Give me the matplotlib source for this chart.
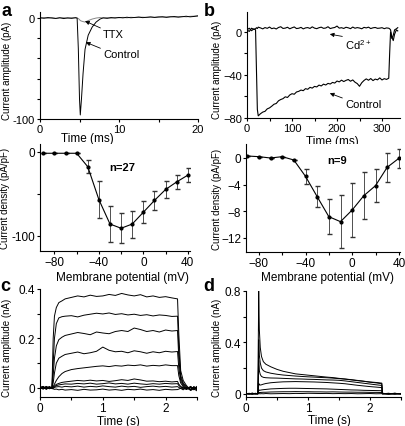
import numpy as np
import matplotlib
matplotlib.use("Agg")
import matplotlib.pyplot as plt

plt.rcParams['font.family'] = ['Liberation Sans', 'DejaVu Sans']
plt.rcParams['mathtext.default'] = 'regular'

# ---- panel a: Na current, control vs TTX (pA vs ms)
a_time = [0, 0.5, 1, 1.5, 2, 2.5, 3, 3.5, 4, 4.5, 4.7, 4.85, 5.0, 5.1, 5.25, 5.45, 5.7, 6.1, 6.6, 7.1,
          7.6, 8, 8.5, 9, 9.5, 10, 10.5, 11, 11.5, 12, 12.5, 13, 13.5, 14, 14.5, 15, 15.5, 16, 16.5, 17,
          17.5, 18, 18.5, 19, 19.5, 20]
a_control = [0.3, -0.2, 0.5, 0, -0.4, 0.3, -0.5, 0.2, -0.3, 0.4, 0, -30, -80, -96, -80, -55, -31, -17, -9, -4,
             -1, 0.2, -0.3, 0.5, 0, 0.6, 0.2, 0.8, 0.3, 0.6, 1.0, 0.4, 0.8, 1.1, 0.6, 1.0, 1.3, 0.7, 1.2, 1.5,
             0.9, 1.3, 1.8, 1.2, 1.6, 2.2]
a_ttx = [0, 0.4, -0.2, 0.5, -0.3, 0.2, 0.4, -0.2, 0.3, 0.1, 0, -0.5, -1.5, -2.5, -3, -3.5, -4, -2.5, -1, 0,
         0.5, 0.1, 0.4, -0.1, 0.6, 0.3, 0.7, 0.2, 0.8, 0.5, 0.7, 0.9, 0.5, 1.0, 0.8, 1.2, 0.9, 1.1, 1.4, 1.0,
         1.3, 1.6, 1.2, 1.7, 1.9, 2.0]

# ---- panel b: Ca current, control vs Cd2+ (pA vs ms)
b_time = [0, 5, 10, 15, 19, 21, 23, 25, 30, 35, 40, 45, 50, 55, 60, 65, 70, 75, 80, 85, 90, 95, 100,
          105, 110, 115, 120, 125, 130, 135, 140, 145, 150, 155, 160, 165, 170, 175, 180, 185, 190, 195,
          200, 205, 210, 215, 220, 225, 230, 235, 240, 245, 250, 255, 260, 265, 270, 275, 280, 285, 290,
          295, 300, 305, 310, 315, 317, 319, 322, 325, 328, 332, 335]
b_control = [2, 3.5, 1.2, 2.8, 2, -35, -72, -78,
             -76.0, -74.5, -73.8, -71.5, -70.6, -69.0, -67.2, -66.5, -64.0, -62.8,
             -62.0, -60.3, -60.9, -58.6, -57.4, -57.9, -55.8, -55.2, -54.0, -54.6,
             -52.7, -53.3, -51.5, -52.2, -50.6, -51.1, -49.4, -50.2, -48.5, -49.3,
             -47.8, -48.4, -46.9, -47.5, -45.6, -46.4, -44.8, -46.1, -45.0, -44.2,
             -45.8, -44.6, -46.7, -48.0, -50.5, -47.2, -45.1, -43.6, -44.9, -43.3,
             -45.2, -43.8, -44.5, -42.7, -44.6, -43.4, -44.1, -43.0,
             -20, 0, -6, -3, 2, 3, 4]
b_cd = [2, 0.5, 3.5, 2.5, 3, 4, 3.2, 4.5,
        3.8, 2.9, 4.1, 3.4, 4.6, 3.1, 3.7, 2.8, 4.2, 4.9,
        3.3, 3.6, 4.4, 3.0, 3.9, 4.7, 3.2, 3.5, 4.3, 2.9,
        3.8, 4.1, 3.3, 4.8, 3.6, 3.1, 4.0, 4.5, 3.4, 3.7,
        4.9, 3.2, 3.8, 4.2, 5.5, 3.6, 4.0, 3.3, 4.4, 3.9,
        3.1, 4.6, 3.5, 4.1, 3.7, 3.0, 4.3, 3.8, 4.5, 3.2,
        3.9, 4.2, 3.4, 3.6, 4.0, 3.1, 3.8, 3.5,
        3, 2, -5, -8, -2, 2, 1]

# ---- IV curves
iv_v = [-90, -80, -70, -60, -50, -40, -30, -20, -10, 0, 10, 20, 30, 40]
iv_na = [-2, -2, -2, -2, -18, -57, -86, -91, -86, -72, -58, -45, -36, -28]
iv_na_err = [0, 0, 0, 0, 8, 22, 21, 18, 16, 13, 11, 10, 8, 8]
iv_ca = [0.3, 0.2, 0.0, 0.2, -0.3, -2.75, -5.8, -8.8, -9.55, -7.8, -5.65, -4.15, -1.4, -0.05]
iv_ca_err = [0, 0, 0, 0, 0, 1.1, 1.6, 2.6, 3.95, 4.0, 3.5, 2.5, 2.15, 1.4]

# ---- panel c: outward currents (nA vs s)
c_time = [0, 0.05, 0.1, 0.15, 0.19, 0.21, 0.23, 0.26, 0.3, 0.35, 0.4, 0.5, 0.6, 0.7, 0.8, 0.9, 1.0, 1.1,
          1.2, 1.3, 1.4, 1.5, 1.6, 1.7, 1.8, 1.9, 2.0, 2.1, 2.19, 2.21, 2.24, 2.28, 2.33, 2.4, 2.45, 2.5]
c1 = [0.005, -0.004, 0.006, -0.003, 0.0, 0.2, 0.29, 0.325, 0.345, 0.352, 0.36, 0.366, 0.372, 0.368, 0.375,
      0.37, 0.372, 0.378, 0.374, 0.382, 0.376, 0.372, 0.377, 0.368, 0.372, 0.366, 0.369, 0.364, 0.36, 0.22,
      0.07, 0.03, 0.01, -0.01, -0.004, -0.012]
c2 = [0.002, 0.006, -0.005, 0.003, 0.0, 0.1, 0.2, 0.26, 0.283, 0.288, 0.29, 0.292, 0.287, 0.294, 0.298,
      0.302, 0.299, 0.303, 0.297, 0.3, 0.295, 0.298, 0.293, 0.296, 0.291, 0.295, 0.293, 0.289, 0.29, 0.16,
      0.05, 0.02, 0.005, -0.008, 0.004, -0.006]
c3 = [-0.003, 0.004, 0.0, 0.005, -0.002, 0.05, 0.12, 0.17, 0.195, 0.205, 0.212, 0.218, 0.224, 0.22, 0.215,
      0.226, 0.222, 0.219, 0.228, 0.232, 0.228, 0.242, 0.236, 0.228, 0.232, 0.226, 0.234, 0.23, 0.232, 0.12,
      0.04, 0.015, 0.0, -0.01, 0.005, -0.005]
c4 = [0.004, -0.002, 0.005, -0.004, 0.002, 0.02, 0.06, 0.1, 0.12, 0.128, 0.135, 0.14, 0.145, 0.138, 0.142,
      0.148, 0.165, 0.152, 0.146, 0.148, 0.142, 0.15, 0.146, 0.14, 0.146, 0.142, 0.148, 0.145, 0.147, 0.08,
      0.03, 0.01, -0.004, 0.006, -0.008, 0.002]
c5 = [0.0, 0.005, -0.004, 0.003, 0.001, 0.005, 0.015, 0.03, 0.045, 0.058, 0.066, 0.074, 0.078, 0.081, 0.084,
      0.087, 0.089, 0.086, 0.09, 0.088, 0.092, 0.09, 0.093, 0.088, 0.091, 0.089, 0.093, 0.09, 0.09, 0.05,
      0.02, 0.005, -0.006, 0.004, -0.003, 0.006]
c6 = [0.003, -0.004, 0.002, -0.002, 0.0, 0.003, 0.008, 0.014, 0.018, 0.022, 0.024, 0.027, 0.03, 0.028, 0.031,
      0.028, 0.03, 0.026, 0.029, 0.033, 0.03, 0.036, 0.032, 0.027, 0.028, 0.025, 0.027, 0.024, 0.026, 0.015,
      0.006, 0.0, -0.005, 0.003, -0.006, 0.0]
c7 = [-0.004, 0.002, -0.003, 0.004, -0.002, 0.0, 0.004, 0.009, 0.012, 0.014, 0.016, 0.015, 0.018, 0.016,
      0.019, 0.015, 0.017, 0.02, 0.016, 0.018, 0.015, 0.019, 0.016, 0.014, 0.017, 0.015, 0.018, 0.016, 0.017,
      0.01, 0.003, -0.004, 0.002, -0.007, 0.003, -0.004]
c8 = [0.002, -0.005, 0.004, -0.001, 0.0, -0.002, 0.002, 0.004, 0.005, 0.003, 0.006, 0.004, 0.007, 0.003,
      0.006, 0.004, 0.008, 0.005, 0.003, 0.007, 0.004, 0.006, 0.002, 0.005, 0.007, 0.004, 0.006, 0.003, 0.005,
      0.002, -0.003, 0.004, -0.006, 0.002, -0.004, 0.003]
c9 = [-0.002, 0.003, -0.006, 0.002, -0.003, -0.004, -0.006, -0.005, -0.008, -0.006, -0.009, -0.007, -0.01,
      -0.006, -0.009, -0.008, -0.005, -0.009, -0.007, -0.01, -0.006, -0.008, -0.005, -0.009, -0.007, -0.01,
      -0.006, -0.008, -0.007, -0.005, -0.002, -0.008, 0.001, -0.005, 0.002, -0.008]

# ---- panel d: transient outward currents (nA vs s)
d_time = [0, 0.05, 0.1, 0.15, 0.19, 0.2, 0.205, 0.215, 0.23, 0.25, 0.28, 0.32, 0.36, 0.4, 0.5, 0.6, 0.7,
          0.8, 0.9, 1.0, 1.1, 1.2, 1.3, 1.4, 1.5, 1.6, 1.7, 1.8, 1.9, 2.0, 2.1, 2.19, 2.2, 2.3, 2.4, 2.5]
d1 = [0.004, -0.003, 0.005, 0.0, 0.002, 0.5, 0.8, 0.5, 0.36, 0.29, 0.25, 0.23, 0.22, 0.21, 0.19, 0.175,
      0.165, 0.155, 0.15, 0.145, 0.14, 0.135, 0.13, 0.126, 0.12, 0.115, 0.11, 0.104, 0.098, 0.092, 0.088,
      0.083, 0.005, -0.003, 0.004, -0.002]
d2 = [-0.002, 0.004, -0.003, 0.002, 0.0, 0.2, 0.42, 0.3, 0.24, 0.2, 0.18, 0.17, 0.165, 0.16, 0.152, 0.146,
      0.142, 0.138, 0.135, 0.132, 0.13, 0.127, 0.125, 0.122, 0.118, 0.114, 0.108, 0.102, 0.097, 0.09, 0.085,
      0.078, 0.0, 0.004, -0.003, 0.003]
d3 = [0.003, 0.0, 0.004, -0.002, 0.001, 0.1, 0.26, 0.18, 0.15, 0.135, 0.128, 0.125, 0.124, 0.123, 0.122,
      0.12, 0.118, 0.116, 0.115, 0.113, 0.112, 0.11, 0.108, 0.107, 0.105, 0.1, 0.094, 0.088, 0.082, 0.076,
      0.07, 0.065, 0.002, -0.002, 0.003, 0.0]
d4 = [0.0, 0.003, -0.002, 0.004, 0.0, 0.03, 0.08, 0.07, 0.068, 0.07, 0.075, 0.08, 0.083, 0.086, 0.09, 0.093,
      0.094, 0.095, 0.094, 0.093, 0.092, 0.09, 0.088, 0.085, 0.082, 0.078, 0.072, 0.066, 0.061, 0.056, 0.052,
      0.048, 0.003, 0.0, 0.004, -0.002]
d5 = [0.002, -0.002, 0.003, 0.0, 0.0, 0.01, 0.03, 0.028, 0.028, 0.03, 0.032, 0.034, 0.036, 0.038, 0.04,
      0.042, 0.043, 0.043, 0.042, 0.041, 0.04, 0.039, 0.038, 0.036, 0.034, 0.032, 0.03, 0.029, 0.027, 0.026,
      0.025, 0.024, 0.0, 0.003, -0.002, 0.002]
d6 = [-0.002, 0.002, 0.0, 0.003, -0.001, 0.004, 0.01, 0.01, 0.01, 0.011, 0.012, 0.012, 0.013, 0.014, 0.015,
      0.016, 0.016, 0.017, 0.016, 0.016, 0.015, 0.015, 0.014, 0.015, 0.014, 0.013, 0.013, 0.012, 0.012, 0.011,
      0.011, 0.01, 0.0, -0.002, 0.002, 0.0]
d7 = [0.001, 0.0, -0.002, 0.001, 0.0, 0.0, 0.002, 0.001, 0.0, 0.001, 0.0, 0.002, 0.001, 0.0, 0.001, 0.002,
      0.001, 0.003, 0.002, 0.004, 0.003, 0.002, 0.003, 0.001, 0.002, 0.001, 0.002, 0.0, 0.001, 0.002, 0.0,
      0.001, 0.0, 0.002, 0.0, 0.001]

W, H = 405, 427
fig = plt.figure(figsize=(W / 100, H / 100), dpi=100)


def box(l, t, r, b):
    # pixel box -> figure fraction
    return [l / W, 1 - b / H, (r - l) / W, (b - t) / H]


def style(ax, size=8.5):
    for s in ['top', 'right']:
        ax.spines[s].set_visible(False)
    for s in ['left', 'bottom']:
        ax.spines[s].set_linewidth(0.8)
    ax.tick_params(which='both', direction='out', length=2.5, width=0.8, labelsize=size, pad=1)


lw = 0.7

# a
ax_a = fig.add_axes(box(40, 13, 198, 120))
style(ax_a, 8)
ax_a.plot(a_time, a_ttx, color='#888888', lw=lw)
ax_a.plot(a_time, a_control, color='k', lw=lw)
ax_a.set_xlim(0, 20)
ax_a.set_ylim(-100, 6)
ax_a.set_xticks([0, 10, 20])
ax_a.set_xticks([5, 15], minor=True)
ax_a.set_yticks([-100, 0])
ax_a.set_yticklabels(['-100', '0'])
ax_a.set_yticks([-80, -60, -40, -20], minor=True)
ax_a.set_xlabel('Time (ms)', fontsize=8.5, va='top')
ax_a.xaxis.set_label_coords(0.3, -0.125)
ax_a.set_ylabel('Current amplitude (pA)', fontsize=7)
ax_a.yaxis.set_label_coords(-0.177, 0.46)
arr = dict(arrowstyle='-|>', lw=0.6, color='k', mutation_scale=6, shrinkA=0, shrinkB=0, relpos=(0, 1))
ax_a.annotate('TTX', xy=(5.7, -3), xytext=(8.0, -16), ha='left', va='center', fontsize=8, arrowprops=arr)
ax_a.annotate('Control', xy=(5.8, -24), xytext=(8.0, -36), ha='left', va='center', fontsize=8,
              arrowprops=arr)

# b
ax_b = fig.add_axes(box(247, 13, 400, 119))
style(ax_b, 8)
ax_b.plot(b_time, b_cd, color='k', lw=0.8)
ax_b.plot(b_time, b_control, color='k', lw=0.8)
ax_b.set_xlim(0, 340)
ax_b.set_ylim(-80, 18.6)
ax_b.set_xticks([0, 100, 200, 300])
ax_b.set_xticks([50, 150, 250], minor=True)
ax_b.set_yticks([-80, -40, 0])
ax_b.set_yticks([-60, -20], minor=True)
ax_b.set_xlabel('Time (ms)', fontsize=8.5, va='top')
ax_b.xaxis.set_label_coords(0.56, -0.16)
ax_b.set_ylabel('Current amplitude (pA)', fontsize=7)
ax_b.yaxis.set_label_coords(-0.163, 0.46)
ax_b.annotate('Cd$^{2+}$', xy=(184, -2), xytext=(218, -11), ha='left', va='center', fontsize=8,
              arrowprops=arr)
ax_b.annotate('Control', xy=(184, -57), xytext=(218, -67), ha='left', va='center', fontsize=8,
              arrowprops=arr)

# IV Na
ax_e = fig.add_axes(box(40, 145, 190, 252))
style(ax_e)
ax_e.errorbar(iv_v, iv_na, yerr=iv_na_err, color='k', lw=0.8, marker='o', ms=2, capsize=1.8,
              elinewidth=0.6, ecolor='#333333')
ax_e.set_xlim(-93, 42)
ax_e.set_ylim(-118, 9)
ax_e.set_xticks([-80, -40, 0, 40])
ax_e.set_xticks([-60, -20, 20], minor=True)
ax_e.set_yticks([-100, 0])
ax_e.set_yticklabels(['-100', '0'])
ax_e.set_yticks([-50], minor=True)
ax_e.set_xlabel('Membrane potential (mV)', fontsize=8.5, va='top')
ax_e.xaxis.set_label_coords(0.547, -0.187)
ax_e.set_ylabel('Current density (pA/pF)', fontsize=7)
ax_e.yaxis.set_label_coords(-0.2, 0.5)
ax_e.text(-18.6, -18, 'n=27', ha='center', va='center', fontsize=8, fontweight='bold')

# IV Ca
ax_f = fig.add_axes(box(246, 145, 400, 253))
style(ax_f)
ax_f.errorbar(iv_v, iv_ca, yerr=iv_ca_err, color='k', lw=0.8, marker='o', ms=2, capsize=1.8,
              elinewidth=0.6, ecolor='#333333')
ax_f.set_xlim(-91, 41)
ax_f.set_ylim(-14.1, 2.1)
ax_f.set_xticks([-80, -40, 0, 40])
ax_f.set_xticks([-60, -20, 20], minor=True)
ax_f.set_yticks([-12, -8, -4, 0])
ax_f.set_xlabel('Membrane potential (mV)', fontsize=8.5, va='top')
ax_f.xaxis.set_label_coords(0.526, -0.176)
ax_f.set_ylabel('Current density (pA/pF)', fontsize=7)
ax_f.yaxis.set_label_coords(-0.156, 0.5)
ax_f.text(-13.2, -0.3, 'n=9', ha='center', va='center', fontsize=8, fontweight='bold')

# c
ax_c = fig.add_axes(box(40, 290, 197, 398))
style(ax_c)
for tr in [c9, c8, c7, c6, c5, c4, c3, c2, c1]:
    ax_c.plot(c_time, tr, color='k', lw=lw)
ax_c.set_xlim(0, 2.5)
ax_c.set_ylim(-0.037, 0.4)
ax_c.set_xticks([0, 1, 2])
ax_c.set_xticks([0.5, 1.5, 2.5], minor=True)
ax_c.set_yticks([0, 0.2, 0.4])
ax_c.set_yticklabels(['0', '0.2', '0.4'])
ax_c.set_yticks([0.1, 0.3], minor=True)
ax_c.set_xlabel('Time (s)', fontsize=8.5, va='top')
ax_c.xaxis.set_label_coords(0.5, -0.165)
ax_c.set_ylabel('Current amplitude (nA)', fontsize=7)
ax_c.yaxis.set_label_coords(-0.178, 0.46)

# d
ax_d = fig.add_axes(box(246, 292, 401, 398))
style(ax_d)
for tr in [d7, d6, d5, d4, d3, d2, d1]:
    ax_d.plot(d_time, tr, color='k', lw=lw)
ax_d.set_xlim(0, 2.5)
ax_d.set_ylim(-0.025, 0.8)
ax_d.set_xticks([0, 1, 2])
ax_d.set_xticks([0.5, 1.5, 2.5], minor=True)
ax_d.set_yticks([0, 0.4, 0.8])
ax_d.set_yticklabels(['0', '0.4', '0.8'])
ax_d.set_yticks([0.2, 0.6], minor=True)
ax_d.set_xlabel('Time (s)', fontsize=8.5, va='top')
ax_d.xaxis.set_label_coords(0.54, -0.165)
ax_d.set_ylabel('Current amplitude (nA)', fontsize=7)
ax_d.yaxis.set_label_coords(-0.155, 0.47)

# panel letters
for lab, x, y in [('a', 2, 16), ('b', 204, 16), ('c', 0, 291), ('d', 203, 291)]:
    fig.text(x / W, 1 - y / H, lab, fontsize=13, fontweight='bold', va='baseline', ha='left')

fig.savefig('out.png', dpi=100)
